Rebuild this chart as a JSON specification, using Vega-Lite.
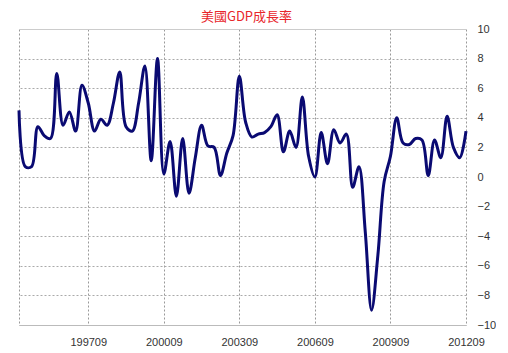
{
  "$schema": "https://vega.github.io/schema/vega-lite/v6.json",
  "width": 447,
  "height": 296,
  "padding": {"left": 13, "top": 11, "right": 0, "bottom": 0},
  "background": "white",
  "config": {"view": {"stroke": null}, "font": "Liberation Sans"},
  "title": {"text": "美國GDP成長率", "color": "#e8262b", "font": "Noto Sans CJK TC", "fontSize": 13, "fontWeight": "normal", "offset": -1, "dx": 4},
  "data": {"values": [
    {"q": "199412", "g": 4.5}, {"q": "199503", "g": 0.7}, {"q": "199506", "g": 0.7}, {"q": "199509", "g": 3.4},
    {"q": "199512", "g": 2.8}, {"q": "199603", "g": 2.6}, {"q": "199606", "g": 7.0}, {"q": "199609", "g": 3.5},
    {"q": "199612", "g": 4.4}, {"q": "199703", "g": 3.1}, {"q": "199706", "g": 6.2}, {"q": "199709", "g": 5.0},
    {"q": "199712", "g": 3.1}, {"q": "199803", "g": 3.9}, {"q": "199806", "g": 3.5}, {"q": "199809", "g": 5.0},
    {"q": "199812", "g": 7.1}, {"q": "199903", "g": 3.4}, {"q": "199906", "g": 3.1}, {"q": "199909", "g": 5.0},
    {"q": "199912", "g": 7.5}, {"q": "200003", "g": 1.1}, {"q": "200006", "g": 8.0}, {"q": "200009", "g": 0.2},
    {"q": "200012", "g": 2.4}, {"q": "200103", "g": -1.3}, {"q": "200106", "g": 2.6}, {"q": "200109", "g": -1.1},
    {"q": "200112", "g": 1.3}, {"q": "200203", "g": 3.5}, {"q": "200206", "g": 2.1}, {"q": "200209", "g": 2.0},
    {"q": "200212", "g": 0.1}, {"q": "200303", "g": 1.6}, {"q": "200306", "g": 2.8}, {"q": "200309", "g": 6.8},
    {"q": "200312", "g": 3.7}, {"q": "200403", "g": 2.7}, {"q": "200406", "g": 2.9}, {"q": "200409", "g": 3.0},
    {"q": "200412", "g": 3.4}, {"q": "200503", "g": 4.2}, {"q": "200506", "g": 1.7}, {"q": "200509", "g": 3.1},
    {"q": "200512", "g": 2.0}, {"q": "200603", "g": 5.4}, {"q": "200606", "g": 1.4}, {"q": "200609", "g": 0.0},
    {"q": "200612", "g": 3.0}, {"q": "200703", "g": 0.9}, {"q": "200706", "g": 3.2}, {"q": "200709", "g": 2.3},
    {"q": "200712", "g": 2.9}, {"q": "200803", "g": -0.7}, {"q": "200806", "g": 0.7}, {"q": "200809", "g": -3.7},
    {"q": "200812", "g": -9.0}, {"q": "200903", "g": -5.3}, {"q": "200906", "g": -0.3}, {"q": "200909", "g": 1.4},
    {"q": "200912", "g": 4.0}, {"q": "201003", "g": 2.3}, {"q": "201006", "g": 2.2}, {"q": "201009", "g": 2.6},
    {"q": "201012", "g": 2.5}, {"q": "201103", "g": 0.1}, {"q": "201106", "g": 2.5}, {"q": "201109", "g": 1.3},
    {"q": "201112", "g": 4.1}, {"q": "201203", "g": 2.0}, {"q": "201206", "g": 1.3}, {"q": "201209", "g": 3.1}
  ]},
  "mark": {"type": "line", "interpolate": "catmull-rom", "color": "#0a0a72", "strokeWidth": 3},
  "encoding": {
    "x": {
      "field": "q", "type": "ordinal", "sort": null,
      "scale": {"type": "point", "padding": 0},
      "axis": {
        "title": null,
        "values": ["199412", "199709", "200009", "200309", "200609", "200909", "201209"],
        "labelExpr": "datum.value == '199412' ? '' : datum.value",
        "labelAngle": 0, "labelFontSize": 11, "labelColor": "#333", "labelPadding": 11,
        "ticks": false,
        "grid": true, "gridColor": "#999", "gridDash": [2, 2], "gridWidth": 1,
        "domain": true, "domainColor": "#bbb", "domainWidth": 1
      }
    },
    "y": {
      "field": "g", "type": "quantitative",
      "scale": {"domain": [-10, 10], "nice": false},
      "axis": {
        "orient": "right", "title": null,
        "values": [-10, -8, -6, -4, -2, 0, 2, 4, 6, 8, 10],
        "labelFontSize": 11, "labelColor": "#333", "labelPadding": 11,
        "ticks": false, "domain": false,
        "grid": true, "gridColor": {"condition": {"test": "datum.value == 10", "value": "#ccc"}, "value": "#aaa"},
        "gridDash": {"condition": {"test": "datum.value == 10 || datum.value == -10", "value": []}, "value": [2, 2]},
        "gridWidth": 1
      }
    }
  }
}
